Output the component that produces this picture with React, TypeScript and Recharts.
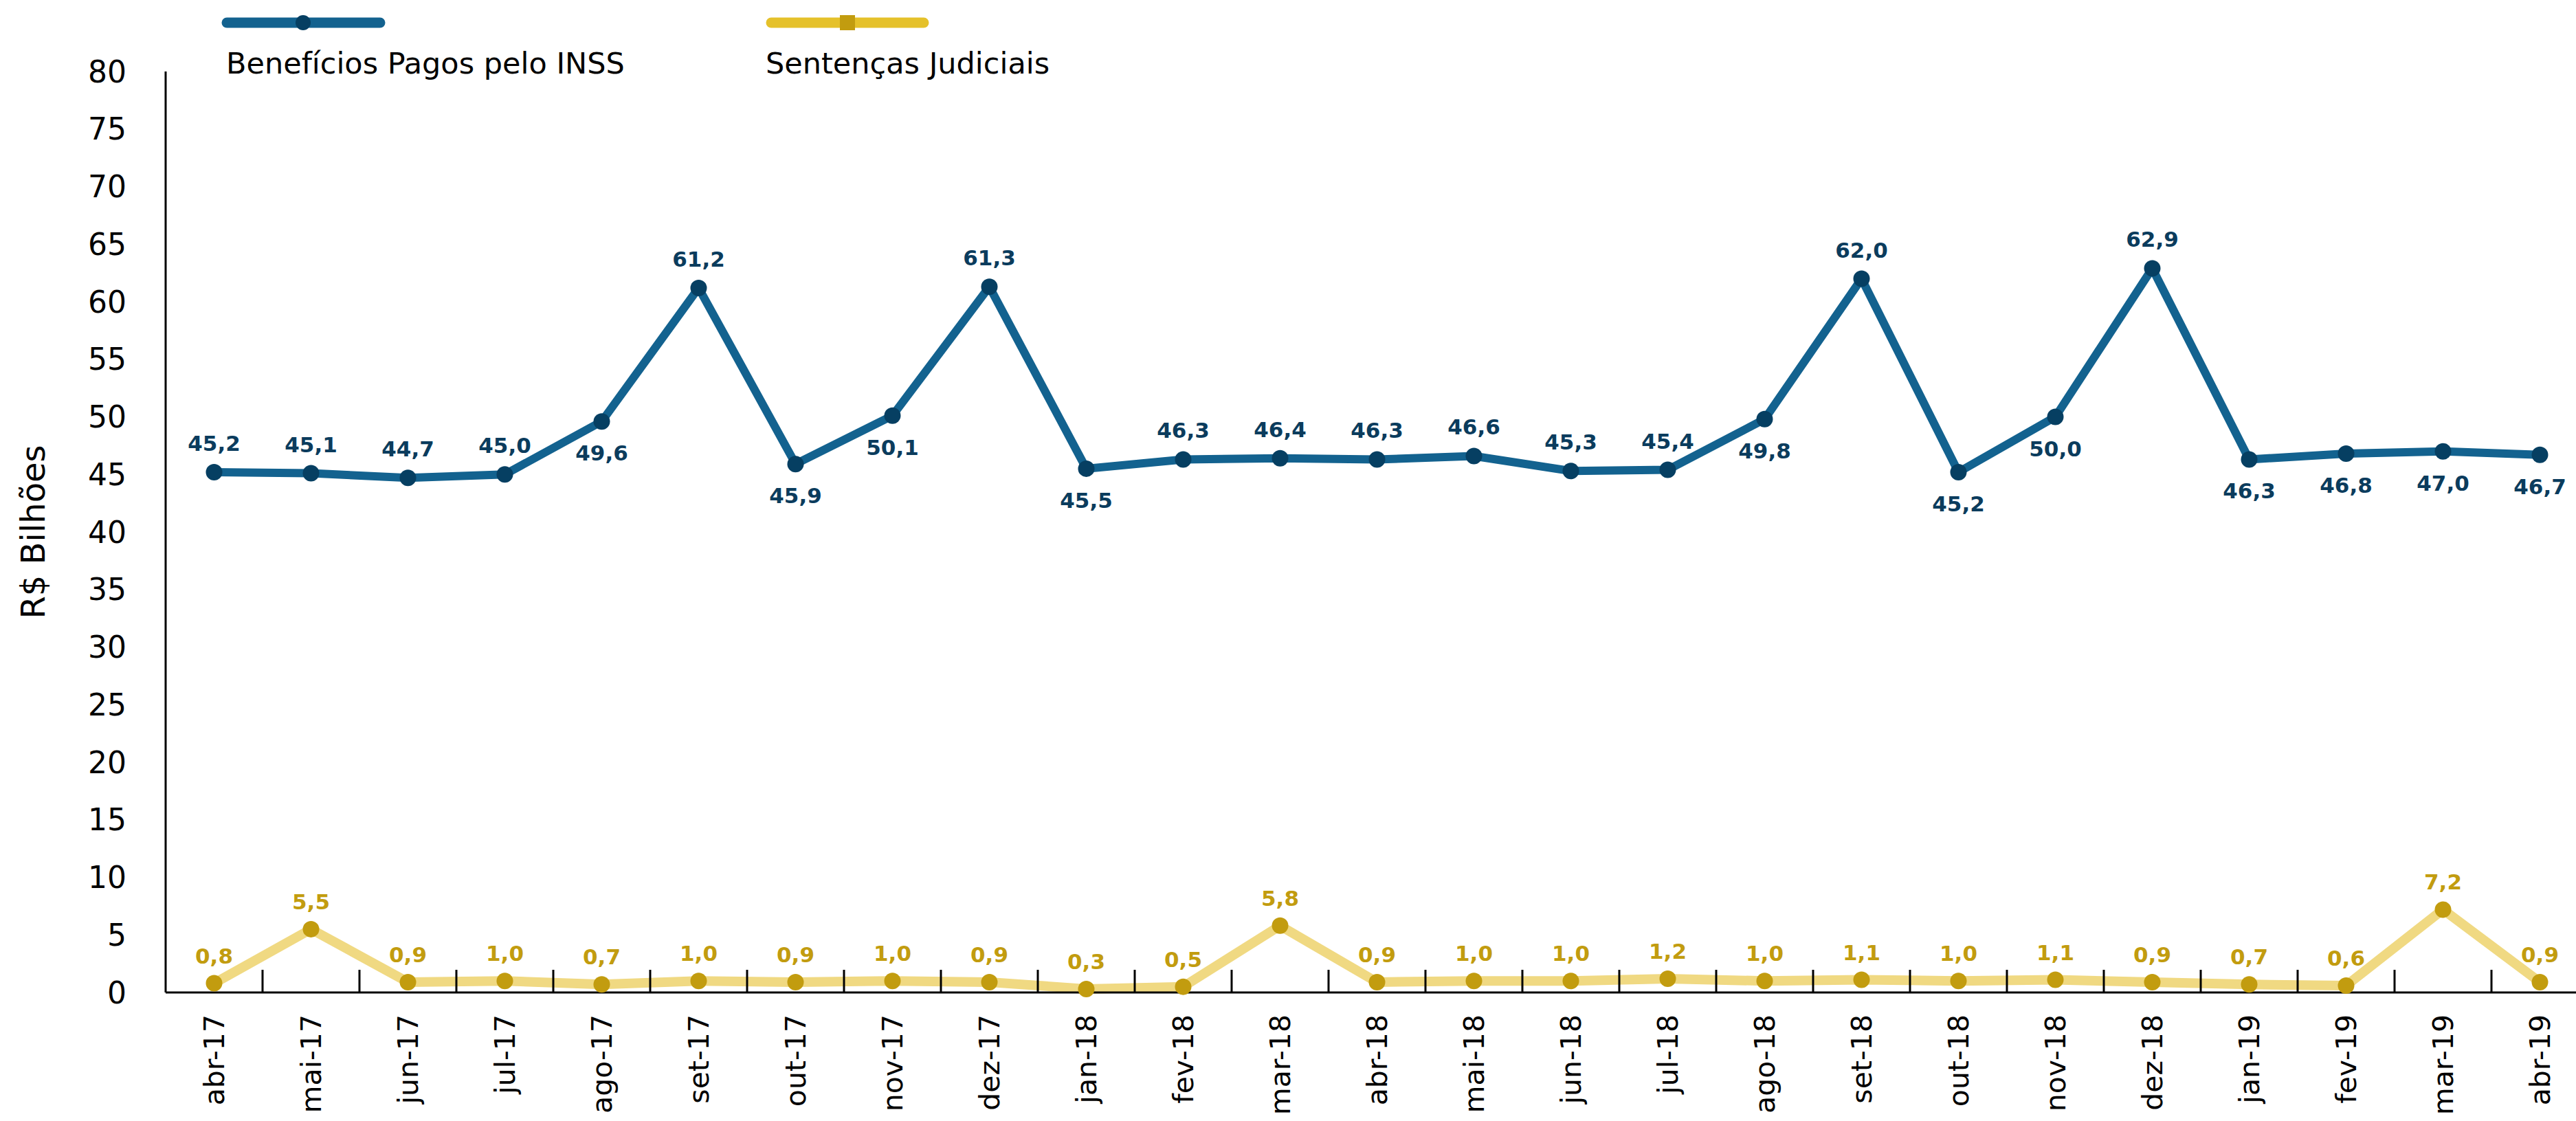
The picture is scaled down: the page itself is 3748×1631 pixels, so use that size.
import { LineChart, Line, XAxis, YAxis, LabelList } from 'recharts';

const FONT = '"DejaVu Sans", sans-serif';

const months = [
  'abr-17', 'mai-17', 'jun-17', 'jul-17', 'ago-17', 'set-17', 'out-17', 'nov-17', 'dez-17',
  'jan-18', 'fev-18', 'mar-18', 'abr-18', 'mai-18', 'jun-18', 'jul-18', 'ago-18', 'set-18',
  'out-18', 'nov-18', 'dez-18', 'jan-19', 'fev-19', 'mar-19', 'abr-19',
];

const beneficios = [
  45.2, 45.1, 44.7, 45.0, 49.6, 61.2, 45.9, 50.1, 61.3, 45.5, 46.3, 46.4, 46.3,
  46.6, 45.3, 45.4, 49.8, 62.0, 45.2, 50.0, 62.9, 46.3, 46.8, 47.0, 46.7,
];

const sentencas = [
  0.8, 5.5, 0.9, 1.0, 0.7, 1.0, 0.9, 1.0, 0.9, 0.3, 0.5, 5.8, 0.9,
  1.0, 1.0, 1.2, 1.0, 1.1, 1.0, 1.1, 0.9, 0.7, 0.6, 7.2, 0.9,
];

// months where the blue value label sits under the point
const beneficiosLabelBelow = [
  'ago-17', 'out-17', 'nov-17', 'jan-18', 'ago-18', 'out-18', 'nov-18',
  'jan-19', 'fev-19', 'mar-19', 'abr-19',
];

const yTicks = [0, 5, 10, 15, 20, 25, 30, 35, 40, 45, 50, 55, 60, 65, 70, 75, 80];

const data = months.map((m, i) => ({
  month: m,
  beneficios: beneficios[i],
  sentencas: sentencas[i],
}));

const fmt = (v: number) => v.toFixed(1).replace('.', ',');

const MonthTick = (props: any) => {
  const { x, y, payload, index } = props;
  const half = payload && payload.offset ? payload.offset : 0;
  return (
    <g>
      {index > 0 && (
        <line x1={x - half} x2={x - half} y1={y} y2={y - 33} stroke='#000' strokeWidth={3} />
      )}
      <text
        x={x}
        y={y + 32}
        transform={`rotate(-90, ${x}, ${y + 32})`}
        textAnchor='end'
        dy='0.35em'
        fontSize={41}
        fontFamily={FONT}
        fill='#000'
      >
        {payload.value}
      </text>
    </g>
  );
};

const pointOf = (props: any) => {
  const vb = props.viewBox || {};
  return { x: props.x ?? vb.x, y: props.y ?? vb.y };
};

const BlueLabel = (props: any) => {
  const { x, y } = pointOf(props);
  const below = beneficiosLabelBelow.includes(months[props.index]);
  return (
    <text
      x={x}
      y={below ? y + 46 : y - 42}
      textAnchor='middle'
      dominantBaseline='central'
      fontSize={31}
      fontWeight='bold'
      fontFamily={FONT}
      fill='#0B3C5D'
    >
      {fmt(props.value)}
    </text>
  );
};

const YellowLabel = (props: any) => {
  const { x, y } = pointOf(props);
  return (
    <text
      x={x}
      y={y - 40}
      textAnchor='middle'
      dominantBaseline='central'
      fontSize={31}
      fontWeight='bold'
      fontFamily={FONT}
      fill='#C29C0F'
    >
      {fmt(props.value)}
    </text>
  );
};

const TopLegend = () => (
  <svg width={1600} height={130} style={{ position: 'absolute', left: 0, top: 0 }}>
    <line x1={330} x2={553} y1={33} y2={33} stroke='#13628F' strokeWidth={15} strokeLinecap='round' />
    <circle cx={441} cy={33} r={11} fill='#063F62' />
    <text x={329} y={107} fontSize={43} fontFamily={FONT} fill='#000'>
      Benefícios Pagos pelo INSS
    </text>
    <line x1={1122} x2={1344} y1={33} y2={33} stroke='#E5C12A' strokeWidth={15} strokeLinecap='round' />
    <rect x={1222} y={22} width={22} height={22} fill='#C29C0F' />
    <text x={1114} y={107} fontSize={43} fontFamily={FONT} fill='#000'>
      Sentenças Judiciais
    </text>
  </svg>
);

export default function App() {
  return (
    <div
      style={{
        position: 'absolute',
        left: 0,
        top: 0,
        width: 3748,
        height: 1631,
        overflow: 'hidden',
        background: '#fff',
      }}
    >
      <LineChart
        width={3766}
        height={1631}
        data={data}
        margin={{ top: 104, right: 0, left: 0, bottom: 0 }}
      >
        <YAxis
          width={241}
          domain={[0, 80]}
          ticks={yTicks}
          interval={0}
          tickLine={false}
          tickSize={0}
          tickMargin={57}
          axisLine={{ stroke: '#000', strokeWidth: 3 }}
          tick={{ fontSize: 44, fill: '#000', fontFamily: FONT }}
          label={{
            value: 'R$ Bilhões',
            angle: -90,
            position: 'insideLeft',
            offset: 48,
            style: { textAnchor: 'middle', fontSize: 48, fill: '#000', fontFamily: FONT },
          }}
        />
        <Line
          dataKey='sentencas'
          stroke='#F0D982'
          strokeWidth={14}
          dot={{ r: 12, fill: '#C29C0F', stroke: 'none' }}
          activeDot={false}
          isAnimationActive={false}
        >
          <LabelList dataKey='sentencas' content={<YellowLabel />} />
        </Line>
        <Line
          dataKey='beneficios'
          stroke='#13628F'
          strokeWidth={12}
          dot={{ r: 12, fill: '#063F62', stroke: 'none' }}
          activeDot={false}
          isAnimationActive={false}
        >
          <LabelList dataKey='beneficios' content={<BlueLabel />} />
        </Line>
        <XAxis
          dataKey='month'
          scale='band'
          height={187}
          interval={0}
          tickLine={false}
          tickSize={0}
          tickMargin={0}
          axisLine={{ stroke: '#000', strokeWidth: 3 }}
          tick={<MonthTick />}
        />
      </LineChart>
      <TopLegend />
    </div>
  );
}
